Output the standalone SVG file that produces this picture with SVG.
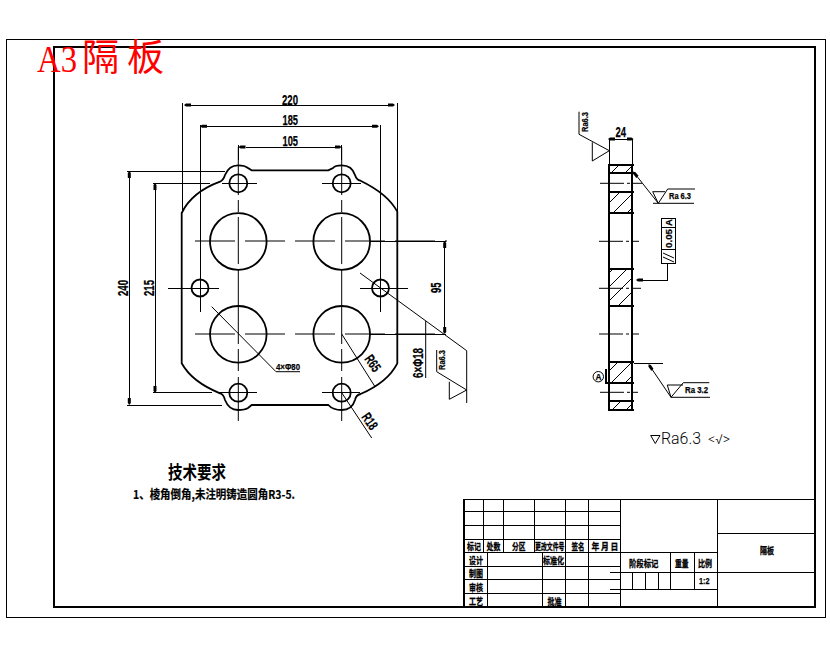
<svg xmlns="http://www.w3.org/2000/svg" width="830" height="654" viewBox="0 0 830 654">
<style>
.g{fill:none;stroke:#000;stroke-width:1;shape-rendering:crispEdges}
.t{fill:none;stroke:#000;stroke-width:2;shape-rendering:crispEdges}
.o{fill:none;stroke:#000;stroke-width:1.8}
.c{fill:none;stroke:#000;stroke-width:1}
.m{fill:none;stroke:#000;stroke-width:1;shape-rendering:crispEdges}
.d{marker-start:url(#ah);marker-end:url(#ah)}
.e{marker-end:url(#ah)}
.n{font-family:"Liberation Sans",sans-serif;font-weight:700;font-size:14px;fill:#000;stroke:#000;stroke-width:.25}
.s{font-family:"Liberation Sans",sans-serif;font-weight:700;font-size:9.5px;fill:#000;stroke:#000;stroke-width:.25}
.k{font-family:"Noto Sans CJK SC",sans-serif;font-weight:700;font-size:9.5px;fill:#000;stroke:#000;stroke-width:.3}
.r{font-family:"Liberation Serif","Noto Sans CJK SC",serif;font-size:38px;fill:#f00}
.rc{font-family:"Noto Sans CJK SC",sans-serif;font-size:37px;fill:#f00}
</style>
<defs>
<marker id="ah" viewBox="0 0 7 4" refX="0" refY="2" markerWidth="7" markerHeight="4" markerUnits="userSpaceOnUse" orient="auto-start-reverse"><path d="M0 2L2 0.5H7V3.5H2Z" fill="#000" transform="rotate(180 3.5 2)"/></marker>
<pattern id="h" width="14" height="14" patternUnits="userSpaceOnUse"><path d="M-1 15L15 -1" stroke="#000" stroke-width="1" fill="none"/></pattern>
</defs>
<rect width="830" height="654" fill="#fff"/>
<g id="frame">
<rect class="g" x="6.5" y="39" width="819" height="578"/>
<rect class="t" x="54" y="46.5" width="760.5" height="560"/>
</g>
<g id="title">
<text class="r" x="37" y="72" textLength="40" lengthAdjust="spacingAndGlyphs">A3</text>
<text class="rc" x="82" y="71" textLength="37" lengthAdjust="spacingAndGlyphs">隔</text>
<text class="rc" x="127" y="71" textLength="37" lengthAdjust="spacingAndGlyphs">板</text>
</g>
<g id="centerlines">
<path class="c" stroke-dasharray="40 10" d="M195 241H447M195 334H445"/>
<path class="c" stroke-dasharray="48 5 12 5 47 5 75 5 22 6 44" d="M238.3 147V422M341.7 147V422"/>
<path class="g" d="M222 183.3H257M322 183.3H361M218 392.7H257M322 392.7H360M168 288H219M360 288H408M200 125V312M380.5 125V312"/>
</g>
<g id="part">
<path class="o" d="M181.7 213V363.3Q192 382 220 393.3Q223.5 394 225 400Q229 410 238 410Q245 410 248 408L251.7 405H328.3Q333 410 341.7 410Q352 410 355 400Q356 395 360.5 394Q388 382 397.3 363.3V211.7Q388 194 360.5 180.7Q356.5 180 355 175Q352 165.3 341.7 165.3Q335 165.3 333 168L328.3 170.3H251.7L248 168Q245 165.3 238 165.3Q229 165.3 225 175Q223.5 180 220 181.7Q192 192 181.7 213Z"/>
<circle class="o" cx="238.3" cy="241.5" r="28.3"/>
<circle class="o" cx="341.7" cy="241.5" r="28.3"/>
<circle class="o" cx="238.3" cy="334.3" r="28.3"/>
<circle class="o" cx="341.7" cy="334.3" r="28.3"/>
<circle class="o" cx="238.3" cy="183.3" r="9"/>
<circle class="o" cx="341.7" cy="183.3" r="9"/>
<circle class="o" cx="238.3" cy="392.7" r="9"/>
<circle class="o" cx="341.7" cy="392.7" r="9"/>
<circle class="o" cx="200" cy="288" r="8.5"/>
<circle class="o" cx="380.5" cy="288" r="8.5"/>
</g>
<g id="dimensions">
<path class="g" d="M182 103V213M397.3 103V212M238.3 145V160M341.7 145V160"/>
<path class="g" d="M127 171H225M153 183.3H210M127 405H222M153 392.7H212M370 241H446M370 334H446"/>
<path class="m d" d="M191 105H388"/>
<path class="m d" d="M207 126.3H372"/>
<path class="m d" d="M245.5 147H334.5"/>
<path class="m d" d="M129.3 178V398"/>
<path class="m d" d="M155 190V386"/>
<path class="m d" d="M444.7 248V327"/>
<path class="c" d="M211.7 306.7L276 371.7H300M341.7 334L375 386.7M341.7 392.7L371.7 438"/>
<path class="c" d="M360 273L466.7 350.7V403M425.7 321V378M436.7 350V371.7L466.7 390M449.3 381.7V399.3L466.7 390"/>
<text class="n" x="282" y="104.5" textLength="16" lengthAdjust="spacingAndGlyphs">220</text>
<text class="n" x="282.5" y="125" textLength="15.5" lengthAdjust="spacingAndGlyphs">185</text>
<text class="n" x="282.5" y="146" textLength="15.5" lengthAdjust="spacingAndGlyphs">105</text>
<text class="n" transform="rotate(-90 128 296)" x="128" y="296" textLength="16" lengthAdjust="spacingAndGlyphs">240</text>
<text class="n" transform="rotate(-90 154 296)" x="154" y="296" textLength="16" lengthAdjust="spacingAndGlyphs">215</text>
<text class="n" transform="rotate(-90 441 293)" x="441" y="293" textLength="10.5" lengthAdjust="spacingAndGlyphs">95</text>
<text class="s" x="276" y="370" textLength="24" lengthAdjust="spacingAndGlyphs">4×Φ80</text>
<text class="n" transform="rotate(55 364 359)" x="364" y="359" textLength="17" lengthAdjust="spacingAndGlyphs">R65</text>
<text class="n" transform="rotate(55 361 417)" x="361" y="417" textLength="17" lengthAdjust="spacingAndGlyphs">R18</text>
<text class="n" transform="rotate(-90 423 378)" x="423" y="378" textLength="30" lengthAdjust="spacingAndGlyphs">6×Φ18</text>
<text class="s" transform="rotate(-90 445 370)" x="445" y="370" textLength="20" lengthAdjust="spacingAndGlyphs">Ra6.3</text>
</g>
<g id="side-view">
<rect x="609" y="164.7" width="23.3" height="8.6" fill="url(#h)"/>
<rect x="609" y="191.7" width="23.3" height="21.6" fill="url(#h)"/>
<rect x="609" y="269" width="23.3" height="36.7" fill="url(#h)"/>
<rect x="609" y="361.7" width="23.3" height="21.6" fill="url(#h)"/>
<rect x="609" y="400.7" width="23.3" height="9.3" fill="url(#h)"/>
<path class="t" d="M609 164V411M632.3 164V411M608 164.7H634M609 173.3H634M609 191.7H634M609 213.3H634M609 269H634M609 305.7H634M608 361.7H634M609 383.3H634M609 400.7H634M608 410H634"/>
<path class="c" stroke-dasharray="24 3 3 3" d="M600 183.3H642M599 241.3H639M599 288.3H641M599 334H639M600 392.3H638"/>
<path class="g" d="M609.7 139V164M632.3 139V164"/>
<path class="m d" d="M615 139H626.5"/>
<text class="n" x="615.5" y="137" textLength="10.5" lengthAdjust="spacingAndGlyphs">24</text>
<path class="c" d="M579 111.7V134.3L609.3 150.7M592.3 142.3V161L609.3 150.7"/>
<text class="s" transform="rotate(-90 588 132)" x="588" y="132" textLength="20" lengthAdjust="spacingAndGlyphs">Ra6.3</text>
<path class="c e" d="M658.3 203.3L637.5 177"/>
<path class="c" d="M652.7 191.7H665M652.7 191.7L658.3 203.3L667.7 189H695M653 203.3H694"/>
<text class="s" x="669" y="198.5" textLength="22" lengthAdjust="spacingAndGlyphs">Ra 6.3</text>
<rect class="g" x="661.3" y="218" width="14.4" height="45.3"/>
<path class="g" d="M661.3 227.3H675.7M661.3 249.3H675.7M667.3 263.3V280H644"/>
<path class="m e" d="M650 280H643"/>
<path class="c" d="M663 253L674 258M663 257L674 262"/>
<text class="s" transform="rotate(-90 672 226)" x="672" y="226" textLength="7">A</text>
<text class="s" transform="rotate(-90 672 248)" x="672" y="248" textLength="19" lengthAdjust="spacingAndGlyphs">0.05</text>
<circle class="c" cx="598.3" cy="376.7" r="5.2"/>
<text class="s" x="595.5" y="380" textLength="6" lengthAdjust="spacingAndGlyphs">A</text>
<path class="t" d="M605.7 369V383.3H609"/>
<path class="g" d="M634 363.3H662.7"/>
<path class="c e" d="M671 397.3L652.5 370"/>
<path class="c" d="M667.3 385H683M667.3 385L671 397.3L683.3 382.7H709.3M671 397.3H710"/>
<text class="s" x="685" y="393" textLength="23" lengthAdjust="spacingAndGlyphs">Ra 3.2</text>
<path class="c" d="M650.7 435.5H660L655.3 443.5Z"/>
<text x="661" y="444" font-family="Roboto,'Liberation Sans',sans-serif" font-weight="300" font-size="16" fill="#000" textLength="40" lengthAdjust="spacingAndGlyphs">Ra6.3</text>
<text x="708" y="444" font-family="Roboto,'Liberation Sans',sans-serif" font-weight="300" font-size="14" fill="#000" textLength="22" lengthAdjust="spacingAndGlyphs">&lt;√&gt;</text>
</g>
<g id="notes">
<text font-family="'Noto Sans CJK SC',sans-serif" font-weight="700" font-size="18" x="168" y="479" textLength="58" lengthAdjust="spacingAndGlyphs">技术要求</text>
<text font-family="'Noto Sans CJK SC',sans-serif" font-weight="700" font-size="12" stroke="#000" stroke-width=".2" x="133" y="499" textLength="162" lengthAdjust="spacingAndGlyphs">1、棱角倒角,未注明铸造圆角R3-5.</text>
</g>
<g id="title-block">
<path class="g" d="M464 499H815M464 511H620.5M464 525.7H620.5M464 539H620.5M464 552.3H717.5M464 566H620.5M464 579.7H620.5M464 593.3H620.5M717.5 533.3H815M620.5 572.3H815M620.5 589.3H717.5M620.5 572.3H610M620.5 589.3H610"/>
<path class="g" d="M483.3 499V552.3M503.3 499V552.3M534.3 499V552.3M565.7 499V607M588.3 499V607M620.5 499V607M717.5 499V607M487.7 552.3V607M542.3 552.3V607M632.3 572.3V589.3M645.7 572.3V589.3M658.3 572.3V589.3M670.3 552.3V589.3M694.3 552.3V589.3"/>
<path class="t" d="M464 499V607"/>
<g class="k">
<text transform="translate(467 549.5) scale(.73 1)">标记</text>
<text transform="translate(486.5 549.5) scale(.73 1)">处数</text>
<text transform="translate(512 549.5) scale(.71 1)">分区</text>
<text transform="translate(535 549.5) scale(.62 1)">更改文件号</text>
<text transform="translate(571.5 549.5) scale(.68 1)">签名</text>
<text transform="translate(591.5 549.5) scale(.82 1)">年 月 日</text>
<text x="469" y="563.5" textLength="14" lengthAdjust="spacingAndGlyphs">设计</text>
<text x="543" y="563.5" textLength="21" lengthAdjust="spacingAndGlyphs">标准化</text>
<text x="469" y="577" textLength="14" lengthAdjust="spacingAndGlyphs">制图</text>
<text x="469" y="590.5" textLength="14" lengthAdjust="spacingAndGlyphs">审核</text>
<text x="469" y="604.5" textLength="14" lengthAdjust="spacingAndGlyphs">工艺</text>
<text x="547.5" y="604.5" textLength="14" lengthAdjust="spacingAndGlyphs">批准</text>
<text x="629" y="566.5" textLength="29.5" lengthAdjust="spacingAndGlyphs">阶段标记</text>
<text x="675" y="566.5" textLength="13.5" lengthAdjust="spacingAndGlyphs">重量</text>
<text x="698" y="566.5" textLength="14" lengthAdjust="spacingAndGlyphs">比例</text>
<text x="760" y="553.5" textLength="14" lengthAdjust="spacingAndGlyphs">隔板</text>
</g>
<text class="s" x="699" y="584" textLength="10.5" lengthAdjust="spacingAndGlyphs">1:2</text>
</g>
</svg>
